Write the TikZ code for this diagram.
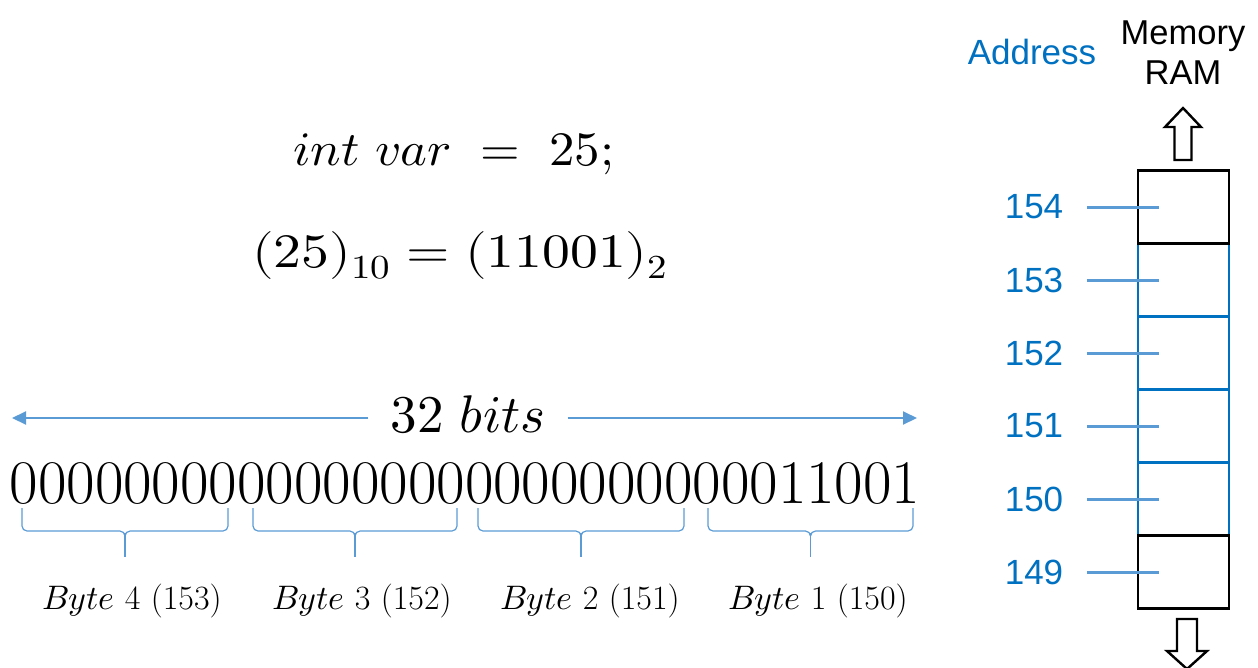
\documentclass[tikz,border=0pt]{standalone}
\usepackage{fontspec}
\usepackage{unicode-math}
\usepackage{graphicx}
\newfontfamily\arialf{Liberation Sans}
\usetikzlibrary{arrows.meta}
\definecolor{lblue}{HTML}{5B9BD5}
\definecolor{dblue}{HTML}{0070C0}
\tikzset{
  cellbox/.style={draw=dblue, line width=2.6pt, minimum width=91pt, minimum height=73pt, inner sep=0pt},
  blackbox/.style={draw=black, line width=2.6pt, minimum width=91pt, minimum height=73pt, inner sep=0pt},
  addr/.style={text=dblue, font=\arialf\fontsize{35}{38}\selectfont, inner sep=0pt},
  tickline/.style={draw=lblue, line width=3pt},
  bracepath/.style={draw=lblue, line width=1.2pt, rounded corners=5pt},
  blockarrow/.style={draw=black, line width=2.4pt, fill=white, line join=miter},
  bitarrow/.style={draw=lblue, line width=2pt, -{Triangle[length=14pt,width=13pt]}},
  bytelabel/.style={anchor=base, inner sep=0pt, font=\fontsize{34}{38}\selectfont},
}
\begin{document}
\begin{tikzpicture}[x=1pt,y=-1pt]
\useasboundingbox (0,0) rectangle (1258,667);
% equations
\node[anchor=base, inner sep=0pt, font=\fontsize{48}{52}\selectfont] (eqa) at (454,165) {\scalebox{1.06}[1]{$int\ var\ =\ 25;$}};
\node[anchor=base, inner sep=0pt, font=\fontsize{48}{52}\selectfont] (eqb) at (460,267) {\scalebox{1.16}[1]{$(25)_{10}=(11001)_2$}};
% 32 bits
\node[anchor=base, inner xsep=22pt, inner ysep=0pt, font=\fontsize{53}{56}\selectfont] (bits) at (468,432) {$32\ bits$};
\coordinate (bl) at (12,418);
\coordinate (br) at (917,418);
\draw[bitarrow] (bits.west |- bl) -- (bl);
\draw[bitarrow] (bits.east |- br) -- (br);
% bit string
\node[anchor=base, inner sep=0pt, font=\fontsize{62}{66}\selectfont] (str) at (465,503) {00000000000000000000000000011001};
% braces
\foreach \a/\b in {22/228, 253/457, 478/684, 708/913}{
  \pgfmathsetmacro{\c}{(\a+\b)/2}
  \draw[bracepath] (\a,508) -- (\a,531) -- (\c-0.1,531) -- (\c,536);
  \draw[bracepath] (\b,508) -- (\b,531) -- (\c+0.1,531) -- (\c,536);
  \draw[draw=lblue, line width=1.2pt] (\c,533) -- (\c,557);
}
\node[bytelabel] (b4) at (132,609) {$Byte$ 4 (153)};
\node[bytelabel] (b3) at (362,609) {$Byte$ 3 (152)};
\node[bytelabel] (b2) at (590,609) {$Byte$ 2 (151)};
\node[bytelabel] (b1) at (818,609) {$Byte$ 1 (150)};
% header
\node[text=dblue, font=\arialf\fontsize{35}{38}\selectfont, inner sep=0pt] (address) at (1032,52) {Address};
\node[align=center, font=\arialf\fontsize{34.5}{40}\selectfont, inner sep=0pt] (mem) at (1183,53) {Memory\\RAM};
% memory cells
\node[cellbox] (c153) at (1183.5,280) {};
\node[cellbox] (c152) at (1183.5,353) {};
\node[cellbox] (c151) at (1183.5,426) {};
\node[cellbox] (c150) at (1183.5,499) {};
\node[blackbox] (c154) at (1183.5,207) {};
\node[blackbox] (c149) at (1183.5,572) {};
% addresses and ticks
\foreach \n/\y in {154/207,153/280,152/353,151/426,150/499,149/572}{
  \node[addr] (a\n) at (1034,\y) {\n};
  \draw[tickline] ([xshift=24pt]a\n.east) -- ([xshift=22pt]c\n.west);
}
% block arrows
\draw[blockarrow] (1174.5,160) -- (1174.5,127) -- (1165,127) -- (1183,108) -- (1201,127) -- (1191.5,127) -- (1191.5,160) -- cycle;
\draw[blockarrow] (1177,619) -- (1197,619) -- (1197,651) -- (1207,651) -- (1187,669) -- (1167,651) -- (1177,651) -- cycle;
\end{tikzpicture}
\end{document}
